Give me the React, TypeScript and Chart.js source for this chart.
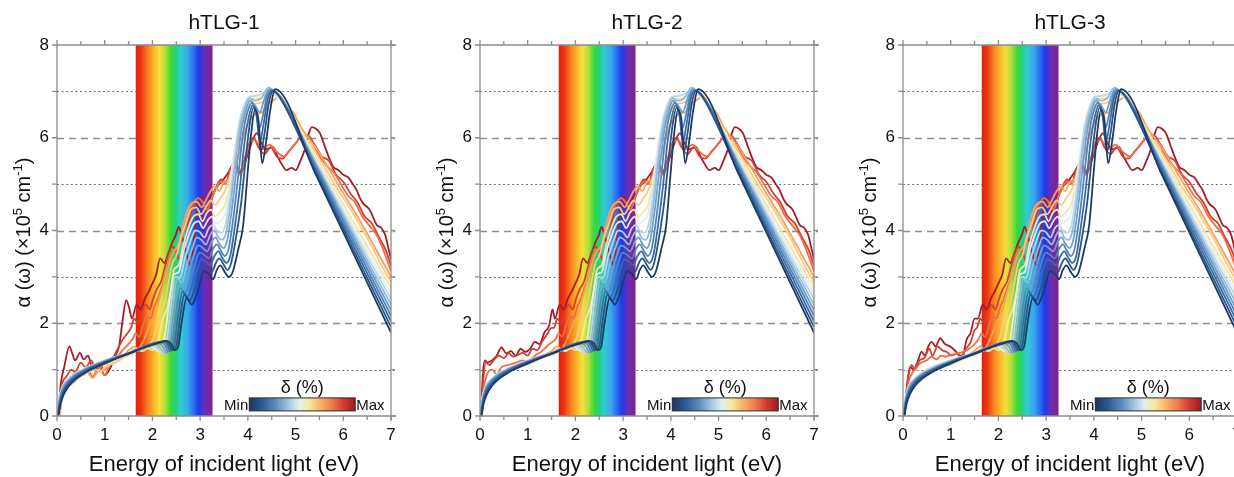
import React, { useEffect, useRef } from 'react';
import { Chart, registerables } from 'chart.js';

Chart.register(...registerables);

// ---------- data ----------
const PANEL_TITLES = ['hTLG-1', 'hTLG-2', 'hTLG-3'];
const X_RANGE = [0, 7];
const Y_RANGE = [0, 8];
const BAND_RANGE = [1.65, 3.26];
const LEGEND_TITLE = 'δ (%)';
const LEGEND_MIN = 'Min';
const LEGEND_MAX = 'Max';
const LEGEND_X = [4.03, 6.25];
const LEGEND_Y = [0.11, 0.39];
const X_TITLE = 'Energy of incident light (eV)';

// curve colours, Min (0) -> Max (13)
const CURVE_COLORS = [
  '#1d3b66', '#2a5488', '#3a6ba3', '#5285ba', '#6fa0cc', '#93bcdc', '#bcd7e8',
  '#e2eef0', '#f5e6a8', '#fbc984', '#f8a15d', '#ec6d46', '#d23f33', '#a51d23',
];

// low-energy part (x < ~1.55), shared by curves 0..8 in all panels  [x,y,x,y,...]
const LOW_COMMON = [
  [0.03, 0, 0.08, 0.28, 0.15, 0.48, 0.25, 0.65, 0.4, 0.8, 0.6, 0.94, 0.8, 1.04, 1.0, 1.13, 1.25, 1.24, 1.5, 1.34],
  [0.02, 0, 0.07, 0.3, 0.14, 0.52, 0.25, 0.69, 0.4, 0.83, 0.6, 0.96, 0.8, 1.06, 1.0, 1.15, 1.25, 1.25, 1.5, 1.35],
  [0.02, 0, 0.07, 0.32, 0.14, 0.55, 0.25, 0.72, 0.4, 0.86, 0.6, 0.98, 0.8, 1.08, 1.0, 1.16, 1.25, 1.26, 1.5, 1.35],
  [0.01, 0, 0.06, 0.34, 0.13, 0.58, 0.25, 0.75, 0.4, 0.88, 0.6, 1.0, 0.8, 1.09, 1.0, 1.17, 1.25, 1.27, 1.5, 1.35],
  [0.01, 0, 0.06, 0.36, 0.13, 0.6, 0.25, 0.77, 0.4, 0.9, 0.6, 1.01, 0.8, 1.1, 1.0, 1.18, 1.25, 1.27, 1.5, 1.35],
  [0.01, 0, 0.06, 0.38, 0.12, 0.62, 0.25, 0.79, 0.4, 0.91, 0.6, 1.02, 0.8, 1.11, 1.0, 1.19, 1.25, 1.28, 1.5, 1.36],
  [0, 0, 0.05, 0.4, 0.12, 0.64, 0.25, 0.8, 0.4, 0.92, 0.6, 1.03, 0.8, 1.12, 1.0, 1.2, 1.25, 1.28, 1.5, 1.35],
  [0, 0, 0.05, 0.42, 0.12, 0.65, 0.25, 0.82, 0.4, 0.93, 0.6, 1.04, 0.8, 1.12, 1.0, 1.2, 1.25, 1.28, 1.5, 1.33],
  [0, 0, 0.05, 0.35, 0.12, 0.58, 0.25, 0.75, 0.4, 0.86, 0.6, 0.98, 0.8, 1.05, 0.95, 1.1, 1.1, 1.14, 1.25, 1.22, 1.4, 1.28, 1.5, 1.3],
];

// low-energy part of curves 9..13, per panel
const LOW_RED_P1 = [
  [0.05, 0, 0.1, 0.45, 0.2, 0.6, 0.35, 0.75, 0.5, 0.85, 0.65, 0.95, 0.8, 1.0, 0.9, 0.95, 1.0, 1.05, 1.15, 1.12, 1.3, 1.2, 1.45, 1.3],
  [0.06, 0, 0.12, 0.5, 0.2, 0.62, 0.35, 0.72, 0.5, 0.88, 0.62, 0.95, 0.75, 0.82, 0.85, 0.95, 1.0, 1.0, 1.1, 1.1, 1.25, 1.18, 1.4, 1.3, 1.5, 1.42],
  [0.05, 0, 0.1, 0.55, 0.2, 0.75, 0.3, 0.85, 0.42, 0.95, 0.55, 0.88, 0.65, 0.98, 0.75, 0.85, 0.88, 1.05, 1.0, 0.88, 1.1, 1.1, 1.25, 1.25, 1.4, 1.45, 1.5, 1.55],
  [0.04, 0, 0.1, 0.65, 0.2, 0.85, 0.3, 1.0, 0.38, 0.95, 0.5, 1.15, 0.6, 1.05, 0.72, 1.2, 0.8, 1.05, 0.9, 1.12, 1.0, 1.0, 1.1, 1.15, 1.2, 1.3, 1.35, 1.6, 1.45, 1.75],
  [0.02, 0, 0.08, 0.7, 0.15, 1.05, 0.26, 1.5, 0.32, 1.35, 0.38, 1.2, 0.48, 1.36, 0.56, 1.22, 0.65, 1.3, 0.72, 1.1, 0.8, 1.0, 0.9, 1.05, 1.0, 0.88, 1.1, 1.0, 1.2, 1.25, 1.3, 1.5, 1.38, 2.1, 1.45, 2.5, 1.52, 2.3],
];
const LOW_RED_P2 = [
  [0.04, 0, 0.1, 0.5, 0.2, 0.68, 0.35, 0.82, 0.5, 0.92, 0.7, 1.03, 0.9, 1.1, 1.1, 1.18, 1.3, 1.27, 1.5, 1.36],
  [0.04, 0, 0.1, 0.55, 0.2, 0.72, 0.35, 0.85, 0.5, 0.95, 0.7, 1.05, 0.9, 1.12, 1.1, 1.2, 1.3, 1.3, 1.5, 1.4],
  [0.03, 0, 0.08, 0.6, 0.15, 0.9, 0.25, 1.0, 0.35, 0.9, 0.45, 1.05, 0.6, 1.1, 0.75, 1.15, 0.9, 1.2, 1.0, 1.18, 1.15, 1.3, 1.3, 1.4, 1.45, 1.55],
  [0.02, 0, 0.07, 0.8, 0.12, 1.15, 0.2, 1.1, 0.3, 1.22, 0.4, 1.3, 0.5, 1.25, 0.6, 1.35, 0.7, 1.28, 0.8, 1.32, 0.9, 1.36, 1.0, 1.3, 1.1, 1.45, 1.2, 1.42, 1.3, 1.6, 1.4, 1.75, 1.5, 1.9],
  [0.02, 0, 0.06, 0.9, 0.1, 1.2, 0.16, 1.15, 0.25, 1.2, 0.35, 1.3, 0.45, 1.48, 0.55, 1.35, 0.65, 1.4, 0.75, 1.3, 0.85, 1.45, 0.95, 1.38, 1.05, 1.45, 1.15, 1.6, 1.25, 1.55, 1.35, 1.8, 1.45, 1.95, 1.52, 2.3],
];
const LOW_RED_P3 = [
  [0.02, 0, 0.08, 0.42, 0.15, 0.62, 0.3, 0.82, 0.45, 0.94, 0.6, 1.03, 0.8, 1.11, 1.0, 1.19, 1.2, 1.26, 1.4, 1.32],
  [0.02, 0, 0.08, 0.45, 0.15, 0.65, 0.3, 0.85, 0.45, 0.97, 0.6, 1.05, 0.8, 1.13, 1.0, 1.2, 1.2, 1.27, 1.4, 1.33],
  [0.03, 0, 0.1, 0.65, 0.18, 0.9, 0.28, 1.05, 0.38, 1.15, 0.5, 1.2, 0.6, 1.28, 0.7, 1.22, 0.8, 1.3, 0.9, 1.28, 1.0, 1.32, 1.15, 1.35, 1.3, 1.4, 1.45, 1.5],
  [0.02, 0, 0.1, 0.75, 0.18, 1.1, 0.25, 1.0, 0.35, 1.2, 0.45, 1.25, 0.55, 1.45, 0.62, 1.3, 0.72, 1.5, 0.82, 1.42, 0.92, 1.38, 1.02, 1.3, 1.12, 1.35, 1.22, 1.3, 1.32, 1.45, 1.42, 1.6, 1.5, 1.85],
  [0.02, 0, 0.1, 0.8, 0.15, 1.06, 0.22, 1.0, 0.3, 1.15, 0.39, 1.39, 0.46, 1.3, 0.53, 1.5, 0.6, 1.6, 0.68, 1.5, 0.78, 1.68, 0.87, 1.56, 0.99, 1.5, 1.1, 1.4, 1.24, 1.25, 1.33, 1.64, 1.42, 1.8, 1.5, 2.1],
];

// visible / UV part of every curve (x >= ~1.55), shared by the panels
const HIGH = [
  [1.75, 1.44, 1.9, 1.5, 2.05, 1.55, 2.2, 1.6, 2.3, 1.62, 2.38, 1.57, 2.47, 1.42, 2.54, 1.5, 2.61, 2.0, 2.72, 2.55, 2.82, 2.4, 2.92, 2.6, 3.0, 2.88, 3.08, 3.12, 3.17, 3.08, 3.27, 2.95, 3.35, 3.15, 3.42, 3.25, 3.52, 3.1, 3.6, 3.0, 3.68, 3.1, 3.8, 3.6, 3.9, 4.1, 4.0, 5.3, 4.07, 6.1, 4.15, 6.6, 4.22, 6.4, 4.3, 5.45, 4.38, 5.9, 4.47, 6.6, 4.57, 7.05, 5.4, 5.26, 6.2, 3.53, 7, 1.8],
  [1.75, 1.45, 1.9, 1.51, 2.05, 1.56, 2.2, 1.61, 2.27, 1.62, 2.34, 1.56, 2.42, 1.42, 2.5, 1.52, 2.57, 2.05, 2.67, 2.62, 2.77, 2.48, 2.88, 2.72, 2.97, 3.0, 3.05, 3.25, 3.14, 3.2, 3.24, 3.1, 3.33, 3.3, 3.4, 3.4, 3.5, 3.25, 3.57, 3.15, 3.65, 3.3, 3.76, 3.9, 3.86, 4.6, 3.96, 5.6, 4.04, 6.3, 4.12, 6.65, 4.2, 6.45, 4.27, 5.7, 4.35, 6.1, 4.44, 6.75, 4.53, 7.02, 4.62, 6.95, 5.4, 5.3, 6.2, 3.61, 7, 1.92],
  [1.75, 1.46, 1.9, 1.52, 2.05, 1.57, 2.17, 1.6, 2.24, 1.6, 2.31, 1.54, 2.38, 1.41, 2.46, 1.55, 2.53, 2.1, 2.63, 2.68, 2.73, 2.56, 2.84, 2.85, 2.94, 3.15, 3.02, 3.38, 3.11, 3.33, 3.21, 3.25, 3.3, 3.45, 3.38, 3.55, 3.47, 3.4, 3.55, 3.3, 3.63, 3.45, 3.73, 4.1, 3.83, 4.9, 3.93, 5.9, 4.02, 6.45, 4.1, 6.7, 4.18, 6.5, 4.25, 5.9, 4.33, 6.3, 4.42, 6.85, 4.5, 7.0, 4.66, 6.9, 5.4, 5.36, 6.2, 3.7, 7, 2.04],
  [1.75, 1.47, 1.9, 1.53, 2.05, 1.57, 2.13, 1.58, 2.2, 1.58, 2.27, 1.52, 2.34, 1.39, 2.42, 1.58, 2.49, 2.15, 2.59, 2.75, 2.69, 2.65, 2.8, 2.98, 2.9, 3.3, 2.99, 3.52, 3.08, 3.48, 3.18, 3.4, 3.27, 3.6, 3.35, 3.7, 3.44, 3.55, 3.52, 3.45, 3.6, 3.62, 3.7, 4.3, 3.8, 5.2, 3.9, 6.1, 3.99, 6.55, 4.08, 6.75, 4.16, 6.6, 4.24, 6.2, 4.32, 6.5, 4.4, 6.9, 4.47, 7.02, 4.68, 6.88, 5.4, 5.42, 6.2, 3.79, 7, 2.16],
  [1.75, 1.47, 1.9, 1.53, 2.0, 1.55, 2.1, 1.56, 2.17, 1.55, 2.23, 1.48, 2.3, 1.37, 2.38, 1.62, 2.45, 2.2, 2.55, 2.85, 2.65, 2.75, 2.76, 3.1, 2.86, 3.45, 2.96, 3.68, 3.05, 3.63, 3.15, 3.55, 3.24, 3.75, 3.32, 3.85, 3.41, 3.7, 3.49, 3.62, 3.57, 3.8, 3.67, 4.5, 3.77, 5.4, 3.87, 6.2, 3.96, 6.6, 4.05, 6.8, 4.15, 6.7, 4.25, 6.55, 4.35, 6.85, 4.45, 7.05, 4.7, 6.85, 5.4, 5.46, 6.2, 3.87, 7, 2.28],
  [1.75, 1.47, 1.88, 1.52, 1.98, 1.54, 2.06, 1.54, 2.14, 1.5, 2.21, 1.4, 2.27, 1.36, 2.35, 1.68, 2.42, 2.3, 2.52, 2.95, 2.62, 2.88, 2.72, 3.25, 2.83, 3.6, 2.93, 3.85, 3.02, 3.8, 3.12, 3.7, 3.21, 3.9, 3.3, 4.0, 3.38, 3.85, 3.46, 3.8, 3.55, 3.98, 3.64, 4.6, 3.74, 5.5, 3.84, 6.25, 3.94, 6.65, 4.04, 6.85, 4.15, 6.8, 4.28, 6.85, 4.43, 7.08, 4.6, 6.95, 4.72, 6.8, 5.4, 5.49, 6.2, 3.94, 7, 2.4],
  [1.75, 1.46, 1.86, 1.5, 1.96, 1.52, 2.04, 1.5, 2.12, 1.44, 2.19, 1.35, 2.25, 1.38, 2.32, 1.75, 2.39, 2.4, 2.48, 3.0, 2.58, 2.98, 2.68, 3.4, 2.79, 3.75, 2.9, 4.0, 2.99, 3.97, 3.09, 3.85, 3.18, 4.05, 3.27, 4.12, 3.35, 4.0, 3.44, 3.95, 3.53, 4.12, 3.62, 4.7, 3.72, 5.55, 3.82, 6.3, 3.92, 6.68, 4.02, 6.88, 4.15, 6.9, 4.3, 6.95, 4.45, 7.05, 4.62, 6.92, 4.75, 6.75, 5.4, 5.53, 6.2, 4.02, 7, 2.52],
  [1.6, 1.38, 1.72, 1.42, 1.82, 1.47, 1.92, 1.5, 2.0, 1.48, 2.08, 1.42, 2.15, 1.38, 2.22, 1.5, 2.29, 1.95, 2.36, 2.5, 2.45, 3.05, 2.55, 3.1, 2.65, 3.55, 2.76, 3.9, 2.87, 4.15, 2.97, 4.2, 3.06, 4.05, 3.15, 4.2, 3.24, 4.3, 3.33, 4.15, 3.42, 4.2, 3.52, 4.35, 3.6, 4.8, 3.7, 5.6, 3.8, 6.25, 3.9, 6.65, 4.0, 6.85, 4.15, 6.9, 4.3, 6.95, 4.48, 7.0, 4.62, 6.88, 4.78, 6.68, 5.4, 5.55, 6.2, 4.1, 7, 2.64],
  [1.6, 1.35, 1.7, 1.42, 1.8, 1.4, 1.9, 1.46, 2.0, 1.42, 2.08, 1.5, 2.15, 1.75, 2.22, 2.1, 2.3, 2.3, 2.38, 2.7, 2.45, 3.15, 2.55, 3.25, 2.65, 3.7, 2.75, 4.05, 2.86, 4.3, 2.96, 4.35, 3.05, 4.2, 3.14, 4.38, 3.23, 4.45, 3.32, 4.3, 3.42, 4.4, 3.52, 4.55, 3.6, 4.9, 3.7, 5.55, 3.8, 6.2, 3.9, 6.55, 4.02, 6.8, 4.2, 6.85, 4.4, 6.92, 4.55, 6.95, 4.7, 6.82, 4.85, 6.62, 5.4, 5.63, 6.2, 4.2, 7, 2.76],
  [1.55, 1.38, 1.65, 1.45, 1.75, 1.42, 1.85, 1.5, 1.95, 1.55, 2.03, 1.7, 2.1, 2.0, 2.18, 2.2, 2.26, 2.45, 2.34, 2.9, 2.42, 3.3, 2.5, 3.45, 2.6, 3.85, 2.7, 4.15, 2.8, 4.45, 2.92, 4.5, 3.02, 4.35, 3.12, 4.5, 3.22, 4.65, 3.32, 4.55, 3.42, 4.7, 3.52, 4.85, 3.62, 5.15, 3.72, 5.55, 3.82, 6.1, 3.94, 6.45, 4.08, 6.7, 4.25, 6.75, 4.45, 6.85, 4.62, 6.95, 4.8, 6.7, 5.0, 6.35, 5.2, 6.0, 5.35, 5.8, 5.5, 5.55, 5.7, 5.2, 5.9, 4.85, 6.1, 4.55, 6.3, 4.2, 6.5, 3.85, 6.75, 3.35, 7, 2.88],
  [1.55, 1.45, 1.62, 1.5, 1.7, 1.45, 1.8, 1.6, 1.9, 1.85, 1.98, 2.05, 2.06, 2.2, 2.14, 2.5, 2.22, 2.8, 2.3, 3.1, 2.38, 3.4, 2.47, 3.58, 2.55, 3.7, 2.64, 4.1, 2.74, 4.45, 2.84, 4.6, 2.93, 4.62, 3.03, 4.5, 3.12, 4.65, 3.22, 4.85, 3.3, 4.95, 3.4, 4.85, 3.5, 5.05, 3.6, 5.1, 3.7, 5.3, 3.8, 5.6, 3.9, 6.0, 4.0, 6.3, 4.15, 6.5, 4.3, 6.55, 4.45, 6.75, 4.6, 6.85, 4.68, 6.9, 4.8, 6.65, 4.95, 6.55, 5.1, 6.25, 5.3, 5.95, 5.45, 5.75, 5.6, 5.5, 5.8, 5.15, 6.0, 4.8, 6.3, 4.3, 6.6, 3.75, 7, 3.0],
  [1.58, 1.65, 1.65, 1.78, 1.72, 1.7, 1.8, 1.95, 1.88, 2.15, 1.96, 2.1, 2.04, 2.35, 2.12, 2.55, 2.2, 2.8, 2.28, 3.05, 2.36, 3.4, 2.44, 3.55, 2.5, 3.6, 2.58, 3.7, 2.66, 4.05, 2.76, 4.4, 2.86, 4.6, 2.96, 4.7, 3.06, 4.6, 3.15, 4.45, 3.25, 4.7, 3.35, 4.95, 3.45, 5.05, 3.55, 5.0, 3.65, 5.3, 3.74, 5.35, 3.84, 5.2, 3.95, 5.55, 4.05, 5.9, 4.15, 5.95, 4.3, 5.75, 4.45, 5.85, 4.6, 5.7, 4.75, 5.6, 4.9, 5.75, 5.05, 5.95, 5.2, 6.05, 5.35, 5.9, 5.5, 5.6, 5.65, 5.4, 5.8, 5.25, 5.95, 5.0, 6.1, 4.75, 6.25, 4.6, 6.4, 4.3, 6.55, 4.1, 6.7, 3.9, 6.85, 3.55, 7, 3.12],
  [1.55, 1.9, 1.62, 2.1, 1.7, 2.0, 1.78, 2.25, 1.86, 2.4, 1.94, 2.3, 2.02, 2.55, 2.1, 2.75, 2.18, 2.9, 2.26, 3.2, 2.34, 3.5, 2.42, 3.65, 2.5, 3.55, 2.58, 3.35, 2.66, 3.65, 2.76, 4.2, 2.86, 4.5, 2.96, 4.7, 3.05, 4.62, 3.14, 4.45, 3.24, 4.7, 3.34, 4.95, 3.44, 5.1, 3.54, 5.05, 3.64, 5.35, 3.72, 5.45, 3.82, 5.25, 3.92, 5.5, 4.02, 5.85, 4.12, 6.0, 4.22, 5.8, 4.35, 5.65, 4.48, 5.8, 4.6, 5.6, 4.72, 5.55, 4.85, 5.7, 4.98, 5.85, 5.1, 6.0, 5.25, 6.05, 5.4, 5.85, 5.55, 5.6, 5.7, 5.5, 5.85, 5.2, 6.0, 5.05, 6.15, 4.8, 6.3, 4.6, 6.45, 4.3, 6.6, 4.15, 6.75, 3.85, 6.9, 3.55, 7, 3.24],
  [1.57, 2.1, 1.67, 2.4, 1.75, 2.3, 1.85, 2.55, 1.93, 2.7, 2.0, 2.86, 2.08, 3.05, 2.16, 3.4, 2.25, 3.3, 2.33, 3.5, 2.42, 3.75, 2.49, 3.9, 2.55, 4.08, 2.61, 3.9, 2.68, 3.65, 2.74, 3.4, 2.8, 3.25, 2.87, 3.8, 2.94, 4.4, 3.03, 4.73, 3.14, 4.44, 3.24, 4.7, 3.35, 4.94, 3.45, 5.05, 3.56, 5.2, 3.65, 5.35, 3.73, 5.48, 3.84, 5.23, 3.92, 5.4, 4.0, 5.65, 4.1, 5.95, 4.19, 6.1, 4.28, 5.9, 4.38, 5.75, 4.53, 5.8, 4.62, 5.6, 4.7, 5.45, 4.81, 5.3, 4.92, 5.35, 5.0, 5.3, 5.1, 5.5, 5.2, 5.77, 5.28, 6.1, 5.34, 6.23, 5.42, 6.2, 5.51, 6.1, 5.6, 5.85, 5.69, 5.6, 5.79, 5.37, 5.9, 5.3, 6.0, 5.2, 6.1, 5.15, 6.2, 5.0, 6.28, 4.87, 6.35, 4.7, 6.42, 4.58, 6.55, 4.45, 6.62, 4.3, 6.7, 4.12, 6.8, 4.05, 6.88, 3.9, 6.95, 3.6, 7, 3.38],
];

const LOW_RED = [LOW_RED_P1, LOW_RED_P2, LOW_RED_P3];

// ---------- styles ----------
const FONT = '"Liberation Sans", Arial, Helvetica, sans-serif';
const TEXT = '#111111';
const AXIS = '#8c8c8c';
const BAND_STOPS: [number, string][] = [
  [0, '#e41e0c'], [0.07, '#ee3512'], [0.16, '#f7841f'], [0.25, '#fbbd2c'], [0.31, '#f2e13a'],
  [0.38, '#b6e03c'], [0.46, '#3cd838'], [0.52, '#22d27a'], [0.59, '#32cdd0'], [0.68, '#3aa6f2'],
  [0.76, '#2a6cf0'], [0.82, '#1c3ae6'], [0.88, '#5a30c4'], [0.94, '#77289e'], [1, '#7a2490'],
];
const CBAR_STOPS: [number, string][] = [
  [0, '#1b365f'], [0.12, '#2b5a92'], [0.25, '#5b8cc0'], [0.38, '#a9cbe3'], [0.47, '#e3f0f2'],
  [0.56, '#f9e6a2'], [0.66, '#fbb86b'], [0.78, '#f07a4a'], [0.89, '#d23a30'], [1, '#9e1a1e'],
];

function toPoints(flat: number[]) {
  const pts: { x: number; y: number }[] = [];
  for (let i = 0; i < flat.length; i += 2) pts.push({ x: flat[i], y: flat[i + 1] });
  return pts;
}

function curvesFor(panel: number) {
  return HIGH.map((high, i) => {
    const low = i < LOW_COMMON.length ? LOW_COMMON[i] : LOW_RED[panel][i - LOW_COMMON.length];
    return toPoints(low.concat(high));
  });
}

function drawYTitle(ctx: CanvasRenderingContext2D, cx: number, cy: number) {
  const parts: [string, number, number][] = [
    ['α (ω) (×10', 20, 0], ['5', 13, -8], [' cm', 20, 0], ['-1', 13, -8], [')', 20, 0],
  ];
  ctx.save();
  ctx.translate(cx, cy);
  ctx.rotate(-Math.PI / 2);
  ctx.fillStyle = TEXT;
  ctx.textBaseline = 'alphabetic';
  ctx.textAlign = 'left';
  let total = 0;
  parts.forEach(([t, s]) => { ctx.font = `${s}px ${FONT}`; total += ctx.measureText(t).width; });
  let u = -total / 2;
  parts.forEach(([t, s, dy]) => {
    ctx.font = `${s}px ${FONT}`;
    ctx.fillText(t, u, 7 + dy);
    u += ctx.measureText(t).width;
  });
  ctx.restore();
}

function makePlugin(title: string) {
  return {
    id: 'decor',
    beforeDatasetsDraw(chart: any) {
      const { ctx, chartArea: a, scales } = chart;
      const x = scales.x, y = scales.y;
      ctx.save();
      for (let v = 1; v <= 7; v++) {
        const py = Math.round(y.getPixelForValue(v)) + 0.5;
        const odd = v % 2 === 1;
        ctx.beginPath();
        ctx.setLineDash(odd ? [2, 2.6] : [7, 5]);
        ctx.strokeStyle = odd ? '#707070' : '#8e8e8e';
        ctx.lineWidth = odd ? 1.2 : 1.3;
        ctx.moveTo(a.left, py);
        ctx.lineTo(a.right + 4, py);
        ctx.stroke();
      }
      ctx.setLineDash([]);
      const x0 = x.getPixelForValue(BAND_RANGE[0]);
      const x1 = x.getPixelForValue(BAND_RANGE[1]);
      const g = ctx.createLinearGradient(x0, 0, x1, 0);
      BAND_STOPS.forEach(([o, c]) => g.addColorStop(o, c));
      ctx.fillStyle = g;
      ctx.fillRect(x0, a.top, x1 - x0, a.bottom - a.top);
      ctx.restore();
    },
    afterDatasetsDraw(chart: any) {
      const { ctx, chartArea: a, scales } = chart;
      const x = scales.x, y = scales.y;
      ctx.save();
      ctx.strokeStyle = AXIS;
      ctx.lineWidth = 1.3;
      ctx.setLineDash([]);
      // frame
      ctx.beginPath();
      ctx.moveTo(a.left, a.top); ctx.lineTo(a.left, a.bottom);
      ctx.moveTo(a.left, a.bottom); ctx.lineTo(a.right + 5, a.bottom);
      ctx.moveTo(a.left, a.top); ctx.lineTo(a.right + 5, a.top);
      ctx.moveTo(a.right, a.top - 4); ctx.lineTo(a.right, a.bottom + 4);
      ctx.stroke();
      // ticks
      ctx.beginPath();
      for (let k = 0; k <= 14; k++) {
        const px = x.getPixelForValue(k / 2);
        const len = k % 2 === 0 ? 5 : 4;
        ctx.moveTo(px, a.bottom); ctx.lineTo(px, a.bottom + len);
        ctx.moveTo(px, a.top); ctx.lineTo(px, a.top - len);
      }
      for (let v = 0; v <= 8; v++) {
        const py = y.getPixelForValue(v);
        ctx.moveTo(a.left, py); ctx.lineTo(a.left - 5, py);
        ctx.moveTo(a.right, py); ctx.lineTo(a.right + 4, py);
      }
      ctx.stroke();

      // colour bar legend
      const lx0 = x.getPixelForValue(LEGEND_X[0]);
      const lx1 = x.getPixelForValue(LEGEND_X[1]);
      const ly0 = y.getPixelForValue(LEGEND_Y[1]);
      const ly1 = y.getPixelForValue(LEGEND_Y[0]);
      const cg = ctx.createLinearGradient(lx0, 0, lx1, 0);
      CBAR_STOPS.forEach(([o, c]) => cg.addColorStop(o, c));
      ctx.fillStyle = cg;
      ctx.fillRect(lx0, ly0, lx1 - lx0, ly1 - ly0);
      ctx.strokeStyle = '#2a2a2a';
      ctx.lineWidth = 1;
      ctx.strokeRect(lx0, ly0, lx1 - lx0, ly1 - ly0);
      ctx.fillStyle = TEXT;
      ctx.textBaseline = 'middle';
      ctx.font = `15px ${FONT}`;
      ctx.textAlign = 'right';
      ctx.fillText(LEGEND_MIN, lx0 - 1, (ly0 + ly1) / 2 + 1);
      ctx.textAlign = 'left';
      ctx.fillText(LEGEND_MAX, lx1 + 1, (ly0 + ly1) / 2 + 1);
      ctx.font = `18px ${FONT}`;
      ctx.textAlign = 'center';
      ctx.fillText(LEGEND_TITLE, (lx0 + lx1) / 2, ly0 - 10);

      // titles
      const cx = (a.left + a.right) / 2;
      ctx.font = `21px ${FONT}`;
      ctx.textAlign = 'center';
      ctx.textBaseline = 'middle';
      ctx.fillText(title, cx, 23);
      ctx.font = `22px ${FONT}`;
      ctx.fillText(X_TITLE, cx, 465);
      ctx.restore();
      drawYTitle(ctx, 23, (a.top + a.bottom) / 2 + 2);
    },
  };
}

function Panel({ index }: { index: number }) {
  const ref = useRef<HTMLCanvasElement>(null);
  useEffect(() => {
    if (!ref.current) return;
    const curves = curvesFor(index);
    const chart = new Chart(ref.current, {
      type: 'line',
      data: {
        datasets: curves.map((pts, i) => ({
          data: pts,
          borderColor: CURVE_COLORS[i],
          borderWidth: 1.8,
          pointRadius: 0,
          fill: false,
          cubicInterpolationMode: 'monotone' as const,
        })),
      },
      options: {
        animation: false,
        responsive: false,
        events: [],
        layout: { padding: { top: 45, right: 32, left: 0, bottom: 0 } },
        plugins: { legend: { display: false }, tooltip: { enabled: false }, title: { display: false } },
        scales: {
          x: {
            type: 'linear',
            min: X_RANGE[0],
            max: X_RANGE[1],
            grid: { display: false, drawTicks: false },
            border: { display: false },
            ticks: { stepSize: 1, autoSkip: false, maxRotation: 0, padding: 9, color: TEXT, font: { size: 17, family: FONT } },
            afterFit: (s: any) => { s.height = 61; },
          },
          y: {
            type: 'linear',
            min: Y_RANGE[0],
            max: Y_RANGE[1],
            grid: { display: false, drawTicks: false },
            border: { display: false },
            ticks: { stepSize: 2, padding: 8, color: TEXT, font: { size: 17, family: FONT } },
            afterFit: (s: any) => { s.width = 57; },
          },
        },
      },
      plugins: [makePlugin(PANEL_TITLES[index])],
    } as any);
    return () => chart.destroy();
  }, [index]);
  return (
    <canvas
      ref={ref}
      width={423}
      height={477}
      style={{ position: 'absolute', left: index * 423, top: 0, width: 423, height: 477 }}
    />
  );
}

export default function App() {
  return (
    <div style={{ position: 'fixed', left: 0, top: 0, width: 1234, height: 477, overflow: 'hidden', background: '#ffffff' }}>
      {[0, 1, 2].map((i) => <Panel key={i} index={i} />)}
    </div>
  );
}
